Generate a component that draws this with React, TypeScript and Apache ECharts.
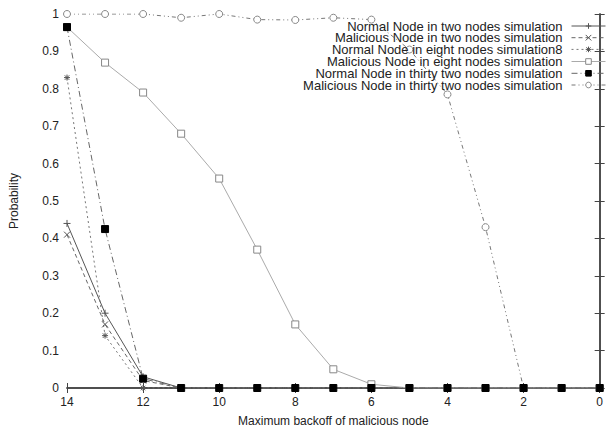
import React, { useEffect, useRef } from "react";
import * as echarts from "echarts";

const xValues = [14, 13, 12, 11, 10, 9, 8, 7, 6, 5, 4, 3, 2, 1, 0];
const normalTwo = [0.44, 0.2, 0.03, 0, 0, 0, 0, 0, 0, 0, 0, 0, 0, 0, 0];
const maliciousTwo = [0.41, 0.17, 0.02, 0, 0, 0, 0, 0, 0, 0, 0, 0, 0, 0, 0];
const normalEight = [0.83, 0.14, 0, 0, 0, 0, 0, 0, 0, 0, 0, 0, 0, 0, 0];
const maliciousEight = [0.965, 0.87, 0.79, 0.68, 0.56, 0.37, 0.17, 0.05, 0.01, 0, 0, 0, 0, 0, 0];
const normalThirtyTwo = [0.965, 0.425, 0.025, 0, 0, 0, 0, 0, 0, 0, 0, 0, 0, 0, 0];
const maliciousThirtyTwo = [1, 1, 1, 0.99, 1, 0.985, 0.984, 0.99, 0.985, 0.905, 0.785, 0.43, 0, 0, 0];

const seriesNames = [
  "Normal Node in two nodes simulation",
  "Malicious Node in two nodes simulation",
  "Normal Node in eight nodes simulation8",
  "Malicious Node in eight nodes simulation",
  "Normal Node in thirty two nodes simulation",
  "Malicious Node in thirty two nodes simulation",
];

const FONT = "Liberation Sans, Arial, Helvetica, sans-serif";

const PLUS = "path://M0,4L8,4M4,0L4,8";
const CROSS = "path://M0,0L8,8M0,8L8,0";
const STAR = "path://M0,4L8,4M4,0L4,8M1,1L7,7M1,7L7,1";

export default function App() {
  const ref = useRef<HTMLDivElement>(null);
  useEffect(() => {
    if (!ref.current) return;
    const chart = echarts.init(ref.current, undefined, { renderer: "svg" });
    const pairs = (vals: number[]) => xValues.map((x, i) => [x, vals[i]]);

    const styles = [
      { data: normalTwo, color: "#555", type: "solid" as any, symbol: PLUS, size: 7, fill: "none", stroke: "#555" },
      { data: maliciousTwo, color: "#666", type: [4, 3] as any, symbol: CROSS, size: 6, fill: "none", stroke: "#555" },
      { data: normalEight, color: "#777", type: [2, 3] as any, symbol: STAR, size: 6, fill: "none", stroke: "#555" },
      { data: maliciousEight, color: "#aaa", type: "solid" as any, symbol: "rect", size: 7, fill: "#fff", stroke: "#888" },
      { data: normalThirtyTwo, color: "#666", type: [6, 3, 1, 3] as any, symbol: "rect", size: 7, fill: "#000", stroke: "#000" },
      { data: maliciousThirtyTwo, color: "#777", type: [4, 3, 1, 3, 1, 3] as any, symbol: "circle", size: 7, fill: "#fff", stroke: "#888" },
    ];

    const series = styles.map((s, i) => ({
      name: seriesNames[i],
      type: "line",
      data: pairs(s.data),
      symbol: s.symbol,
      symbolSize: s.size,
      showAllSymbol: true,
      lineStyle: { color: s.color, width: 1, type: s.type },
      itemStyle: { color: s.fill, borderColor: s.stroke, borderWidth: 1 },
      z: i === 4 ? 5 : 2,
    }));

    const rowCenters = [25, 36.7, 48.4, 60.5, 72.3, 84];
    const legends = seriesNames.map((n, i) => ({
      data: [n],
      right: 0,
      top: rowCenters[i] - 5.5,
      align: "right",
      orient: "vertical",
      itemWidth: 34,
      itemHeight: 7,
      padding: 0,
      selectedMode: false,
      lineStyle: { width: 1 },
      itemStyle: { borderWidth: 1 },
      textStyle: { fontFamily: FONT, fontSize: 13, lineHeight: 11, color: "#222", padding: [0, 4, 0, 0] },
    }));

    const axisLine = { show: true, lineStyle: { color: "#444", width: 1.5 } };
    chart.setOption({
      animation: false,
      backgroundColor: "#fff",
      grid: { left: 63, right: 3, top: 14, bottom: 37 },
      legend: legends,
      xAxis: [
        {
          type: "value",
          min: 0,
          max: 14,
          interval: 2,
          inverse: true,
          position: "bottom",
          name: "Maximum backoff of malicious node",
          nameLocation: "middle",
          nameGap: 27,
          nameTextStyle: { fontFamily: FONT, fontSize: 12, color: "#222" },
          axisLine,
          axisTick: { inside: true, length: 5, lineStyle: { color: "#444" } },
          axisLabel: { fontFamily: FONT, fontSize: 12, color: "#222", margin: 8 },
          splitLine: { show: false },
        },
        {
          type: "value",
          min: 0,
          max: 14,
          interval: 2,
          inverse: true,
          position: "top",
          axisLine,
          axisTick: { inside: true, length: 5, lineStyle: { color: "#444" } },
          axisLabel: { show: false },
          splitLine: { show: false },
        },
      ],
      yAxis: [
        {
          type: "value",
          min: 0,
          max: 1,
          interval: 0.1,
          position: "left",
          name: "Probability",
          nameLocation: "middle",
          nameGap: 47,
          nameTextStyle: { fontFamily: FONT, fontSize: 12, color: "#222" },
          axisLine,
          axisTick: { inside: true, length: 5, lineStyle: { color: "#444" } },
          axisLabel: { fontFamily: FONT, fontSize: 12, color: "#222", margin: 8 },
          splitLine: { show: false },
        },
        {
          type: "value",
          min: 0,
          max: 1,
          interval: 0.1,
          position: "right",
          axisLine,
          axisTick: { inside: true, length: 5, lineStyle: { color: "#444" } },
          axisLabel: { show: false },
          splitLine: { show: false },
        },
      ],
      series,
    });
    return () => chart.dispose();
  }, []);
  return <div ref={ref} style={{ width: 606, height: 432, position: "fixed", left: 0, top: 0 }} />;
}
